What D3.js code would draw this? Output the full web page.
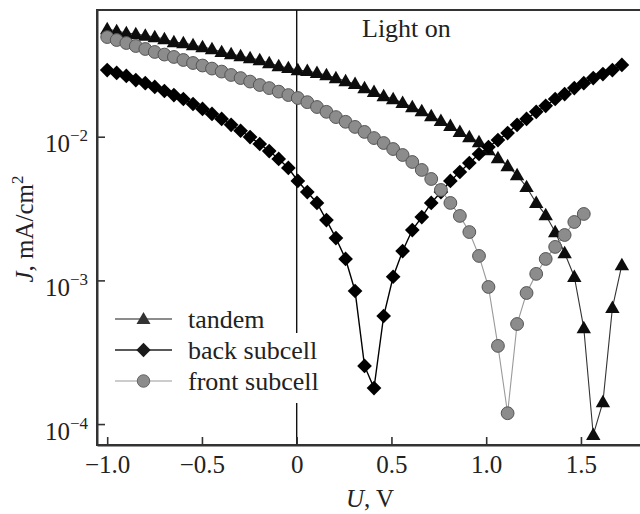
<!DOCTYPE html>
<html>
<head>
<meta charset="utf-8">
<script src="https://cdn.jsdelivr.net/npm/d3@7"></script>
<style>
  html, body { margin: 0; padding: 0; background: #fff; }
  svg { display: block; font-family: "Liberation Serif", "DejaVu Serif", serif; }
</style>
</head>
<body>
<div id="chart"></div>
<script>
// voltage of every measured point (V)
var voltage = [-1.000, -0.950, -0.899, -0.849, -0.799, -0.749, -0.698, -0.648, -0.598, -0.547,
  -0.497, -0.447, -0.396, -0.346, -0.296, -0.246, -0.195, -0.145, -0.095, -0.044,
  0.006, 0.056, 0.107, 0.157, 0.207, 0.258, 0.308, 0.358, 0.408, 0.459,
  0.509, 0.559, 0.610, 0.660, 0.710, 0.761, 0.811, 0.861, 0.911, 0.962,
  1.012, 1.062, 1.113, 1.163, 1.213, 1.264, 1.314, 1.364, 1.414, 1.465,
  1.515, 1.565, 1.616, 1.666, 1.716];

// |J|, mA/cm2
var tandem = [0.0562, 0.0544, 0.0527, 0.0519, 0.0506, 0.0494, 0.0479, 0.0456, 0.0449, 0.0435,
  0.0421, 0.0408, 0.0389, 0.0376, 0.0364, 0.0353, 0.0342, 0.0326, 0.0310, 0.0301,
  0.0291, 0.0287, 0.0278, 0.0269, 0.0256, 0.0244, 0.0233, 0.0218, 0.0205, 0.0192,
  0.0183, 0.0172, 0.0161, 0.0151, 0.0139, 0.0129, 0.0119, 0.0108, 0.00995, 0.00919,
  0.00808, 0.00711, 0.00625, 0.00541, 0.00447, 0.00346, 0.00285, 0.00217, 0.00155, 0.00106,
  0.000466, 0.0000840, 0.000142, 0.000643, 0.00128];

var backSubcell = [0.0291, 0.0278, 0.0265, 0.0248, 0.0236, 0.0222, 0.0208, 0.0195, 0.0183, 0.0169,
  0.0156, 0.0144, 0.0133, 0.0121, 0.0110, 0.00995, 0.00890, 0.00795, 0.00700, 0.00606,
  0.00492, 0.00412, 0.00346, 0.00263, 0.00197, 0.00141, 0.000844, 0.000254, 0.000178, 0.000565,
  0.00106, 0.00160, 0.00224, 0.00276, 0.00346, 0.00412, 0.00492, 0.00568, 0.00656, 0.00758,
  0.00848, 0.00948, 0.0106, 0.0121, 0.0133, 0.0149, 0.0164, 0.0183, 0.0198, 0.0218,
  0.0236, 0.0256, 0.0273, 0.0291, 0.0316];

var frontSubcell = [0.0494, 0.0471, 0.0449, 0.0428, 0.0408, 0.0389, 0.0373, 0.0359, 0.0342, 0.0326,
  0.0313, 0.0298, 0.0284, 0.0269, 0.0256, 0.0242, 0.0229, 0.0218, 0.0206, 0.0195,
  0.0186, 0.0174, 0.0161, 0.0149, 0.0137, 0.0127, 0.0117, 0.0108, 0.00979, 0.00904,
  0.00821, 0.00746, 0.00667, 0.00587, 0.00508, 0.00426, 0.00346, 0.00281, 0.00217, 0.00148,
  0.000900, 0.000350, 0.000119, 0.000497, 0.000817, 0.00111, 0.00141, 0.00171, 0.00207, 0.00255,
  0.00290];

var xTicks = [-1.0, -0.5, 0, 0.5, 1.0, 1.5];
var yTicks = [1e-4, 1e-3, 1e-2];

var width = 640,
    height = 514,
    margin = {top: 10, right: -2, bottom: 69, left: 97};

var x = d3.scaleLinear().domain([-1.0538, 1.8222]).range([margin.left, width - margin.right]);
var y = d3.scaleLog().domain([7.15e-5, 0.0762]).range([height - margin.bottom, margin.top]);

var series = [
  {name: "tandem", values: tandem, symbol: "triangle", line: "#333", lineWidth: 1.1,
   fill: "#0d0d0d", stroke: "#111", legendLine: "#666", legendFill: "#333"},
  {name: "back subcell", values: backSubcell, symbol: "diamond", line: "#000", lineWidth: 1.4,
   fill: "#000", stroke: "#000", legendLine: "#222", legendFill: "#1a1a1a"},
  {name: "front subcell", values: frontSubcell, symbol: "circle", line: "#9a9a9a", lineWidth: 1.1,
   fill: "#8c8c8c", stroke: "#555", legendLine: "#bbb", legendFill: "#8c8c8c"}
];

var svg = d3.select("#chart").append("svg")
    .attr("width", width)
    .attr("height", height);

// frame (right side runs off the picture)
svg.append("rect")
    .attr("x", margin.left)
    .attr("y", margin.top)
    .attr("width", width - margin.right - margin.left)
    .attr("height", height - margin.bottom - margin.top)
    .style("fill", "none")
    .style("stroke", "#333")
    .style("stroke-width", 2);

// U = 0 line
svg.append("line")
    .attr("x1", x(0)).attr("x2", x(0))
    .attr("y1", margin.top).attr("y2", height - margin.bottom)
    .style("stroke", "#111")
    .style("stroke-width", 1.4);

function drawMarker(sel, s, fill, stroke, scale) {
  scale = scale || 1;
  if (s === "circle") {
    sel.append("circle").attr("r", 6.4 * Math.sqrt(scale))
      .style("fill", fill).style("stroke", stroke).style("stroke-width", 1);
  } else if (s === "triangle") {
    sel.append("path").attr("d", d3.symbol(d3.symbolTriangle, 90 * scale)())
      .attr("transform", "translate(0,1)")
      .style("fill", fill);
  } else {
    sel.append("path").attr("d", d3.symbol(d3.symbolSquare, 108 * scale)())
      .attr("transform", "rotate(45)")
      .style("fill", fill);
  }
}

var line = d3.line()
    .x(function(d) { return x(d[0]); })
    .y(function(d) { return y(d[1]); });

series.forEach(function(s) {
  var pts = s.values.map(function(v, i) { return [voltage[i], v]; });
  var g = svg.append("g").attr("class", "series");
  g.append("path")
    .attr("d", line(pts))
    .style("fill", "none")
    .style("stroke", s.line)
    .style("stroke-width", s.lineWidth);
  g.selectAll("g.pt").data(pts).enter().append("g")
    .attr("class", "pt")
    .attr("transform", function(d) { return "translate(" + x(d[0]) + "," + y(d[1]) + ")"; })
    .each(function() { drawMarker(d3.select(this), s.symbol, s.fill, s.stroke); });
});

// axes with inward ticks
var xAxis = svg.append("g")
    .attr("transform", "translate(0," + (height - margin.bottom) + ")")
    .call(d3.axisBottom(x).tickValues(xTicks).tickSizeInner(-8).tickSizeOuter(0).tickPadding(10)
      .tickFormat(function(d) { return d === 0 ? "0" : d3.format(".1f")(d); }));

var yAxis = svg.append("g")
    .attr("transform", "translate(" + margin.left + ",0)")
    .call(d3.axisLeft(y).tickValues(yTicks).tickSizeInner(-8).tickSizeOuter(0).tickPadding(9));

[xAxis, yAxis].forEach(function(a) {
  a.select(".domain").style("stroke", "#333").style("stroke-width", 2);
  a.selectAll(".tick line").style("stroke", "#333").style("stroke-width", 1.6);
  a.selectAll(".tick text")
    .style("font-family", "'Liberation Serif', serif")
    .style("font-size", "25px")
    .style("fill", "#222");
});

yAxis.selectAll(".tick text")
    .attr("dy", null)
    .attr("y", 15)
    .text(null)
    .each(function(d) {
      var t = d3.select(this);
      t.append("tspan").text("10");
      t.append("tspan")
        .attr("dy", -11)
        .style("font-size", "17px")
        .text("\u2212" + Math.round(-Math.log10(d)));
    });

// axis titles
var xTitle = svg.append("text")
    .attr("x", 370)
    .attr("y", 507)
    .attr("text-anchor", "middle")
    .style("font-size", "25px")
    .style("fill", "#222");
xTitle.append("tspan").style("font-style", "italic").text("U");
xTitle.append("tspan").text(", V");

var yTitle = svg.append("text")
    .attr("transform", "translate(33,229) rotate(-90)")
    .attr("text-anchor", "middle")
    .style("font-size", "25px")
    .style("fill", "#222");
yTitle.append("tspan").style("font-style", "italic").text("J");
yTitle.append("tspan").text(", mA/cm");
yTitle.append("tspan").attr("dy", -10).style("font-size", "17px").text("2");

svg.append("text")
    .attr("x", 362)
    .attr("y", 37)
    .style("font-size", "26px")
    .style("fill", "#222")
    .text("Light on");

// legend
svg.append("rect")
    .attr("x", 108).attr("y", 333)
    .attr("width", 218).attr("height", 70)
    .style("fill", "#fff");

var legend = svg.selectAll(".legend").data(series).enter().append("g")
    .attr("class", "legend")
    .attr("transform", function(d, i) { return "translate(115," + (319 + i * 31) + ")"; });

legend.append("line")
    .attr("x1", 0).attr("x2", 57)
    .style("stroke", function(d) { return d.legendLine; })
    .style("stroke-width", 1.5);

legend.append("g")
    .attr("transform", "translate(28.5,0)")
    .each(function(d) { drawMarker(d3.select(this), d.symbol, d.legendFill, "#666", 0.95); });

legend.append("text")
    .attr("x", 73)
    .attr("y", 9)
    .style("font-size", "26px")
    .style("fill", "#222")
    .text(function(d) { return d.name; });
</script>
</body>
</html>
